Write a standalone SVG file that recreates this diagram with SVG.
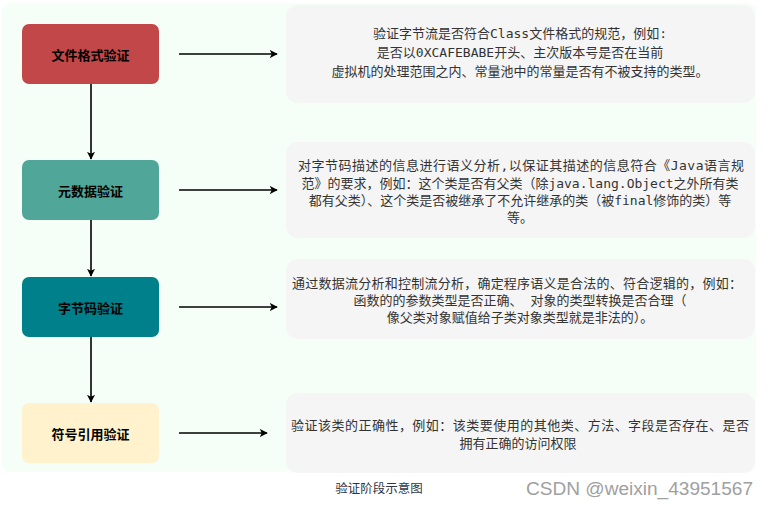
<svg xmlns="http://www.w3.org/2000/svg" width="770" height="509" viewBox="0 0 770 509">
<defs>
<style>
.node-label{font-family:"Noto Sans CJK SC","Noto Sans",sans-serif;font-size:13px;font-weight:bold;fill:#000;text-anchor:middle}
.desc{fill:#f5f5f5}
.dt{font-family:"DejaVu Sans Mono","Noto Sans CJK SC",monospace;font-size:13px;fill:#333;text-anchor:middle}
.dt4{font-family:"Noto Sans CJK SC","Noto Sans",sans-serif;font-size:13px;fill:#333;text-anchor:middle}
.h{stroke:#000;stroke-width:1.5;fill:none}
.v{stroke:#333;stroke-width:2;fill:none}
</style>
<marker id="ah" viewBox="0 0 10 10" refX="9" refY="5" markerWidth="8" markerHeight="8" markerUnits="userSpaceOnUse" orient="auto">
<path d="M0,0 L10,5 L0,10 L2.5,5 Z" fill="#000"/>
</marker>
</defs>
<rect width="770" height="509" fill="#fff"/>
<rect x="2" y="3" width="754" height="469" rx="8" fill="#f5fff8"/>

<g id="desc1">
<rect class="desc" x="286" y="5" width="469" height="98" rx="12"/>
<text class="dt" x="520" y="38">验证字节流是否符合Class文件格式的规范，例如:</text>
<text class="dt" x="520" y="57">是否以0XCAFEBABE开头、主次版本号是否在当前</text>
<text class="dt" x="520" y="76">虚拟机的处理范围之内、常量池中的常量是否有不被支持的类型。</text>
</g>
<g id="desc2">
<rect class="desc" x="286" y="142" width="469" height="96" rx="12"/>
<text class="dt" x="521" y="170" textLength="446" lengthAdjust="spacing">对字节码描述的信息进行语义分析,以保证其描述的信息符合《Java语言规</text>
<text class="dt" x="520" y="187.5">范》的要求，例如：这个类是否有父类（除java.lang.Object之外所有类</text>
<text class="dt" x="520" y="205">都有父类）、这个类是否被继承了不允许继承的类（被final修饰的类）等</text>
<text class="dt" x="520" y="222">等。</text>
</g>
<g id="desc3">
<rect class="desc" x="286" y="259" width="469" height="80" rx="12"/>
<text class="dt" x="517" y="288" textLength="450" lengthAdjust="spacing">通过数据流分析和控制流分析，确定程序语义是合法的、符合逻辑的，例如：</text>
<text class="dt" x="520" y="305">函数的的参数类型是否正确、 对象的类型转换是否合理（</text>
<text class="dt" x="520" y="322">像父类对象赋值给子类对象类型就是非法的）。</text>
</g>
<g id="desc4">
<rect class="desc" x="286" y="393" width="469" height="80" rx="12"/>
<text class="dt4" x="520" y="430" textLength="458" lengthAdjust="spacing">验证该类的正确性，例如：该类要使用的其他类、方法、字段是否存在、是否</text>
<text class="dt4" x="518" y="448">拥有正确的访问权限</text>
</g>

<g id="connectors">
<line class="v" x1="91" y1="84" x2="91" y2="159" marker-end="url(#ah)"/>
<line class="v" x1="91" y1="220" x2="91" y2="276" marker-end="url(#ah)"/>
<line class="v" x1="91" y1="337" x2="91" y2="402" marker-end="url(#ah)"/>
<line class="h" x1="179" y1="54" x2="277" y2="54" marker-end="url(#ah)"/>
<line class="h" x1="179" y1="190" x2="277" y2="190" marker-end="url(#ah)"/>
<line class="h" x1="179" y1="307" x2="277" y2="307" marker-end="url(#ah)"/>
<line class="h" x1="179" y1="433" x2="267" y2="433" marker-end="url(#ah)"/>
</g>

<g id="n1">
<rect x="22" y="24" width="137" height="60" rx="7" fill="#c24748"/>
<text class="node-label" x="90.5" y="60">文件格式验证</text>
</g>
<g id="n2">
<rect x="22" y="160" width="137" height="60" rx="7" fill="#4fa699"/>
<text class="node-label" x="90.5" y="196">元数据验证</text>
</g>
<g id="n3">
<rect x="22" y="277" width="137" height="60" rx="7" fill="#00808a"/>
<text class="node-label" x="90.5" y="313">字节码验证</text>
</g>
<g id="n4">
<rect x="22" y="403" width="137" height="60" rx="7" fill="#fff2cc"/>
<text class="node-label" x="90.5" y="439">符号引用验证</text>
</g>

<text x="379" y="493" font-family="Noto Sans CJK SC, sans-serif" font-size="12.5" fill="#2f3542" text-anchor="middle">验证阶段示意图</text>
<text x="753" y="495" font-family="Liberation Sans, Arial, sans-serif" font-size="18" fill="#a0a0a0" text-anchor="end" textLength="227" lengthAdjust="spacingAndGlyphs">CSDN @weixin_43951567</text>
</svg>
